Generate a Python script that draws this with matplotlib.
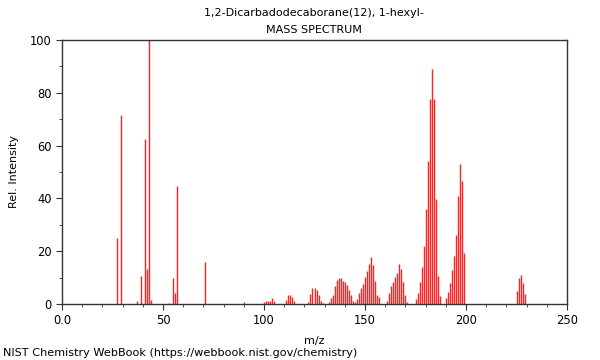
import matplotlib
matplotlib.use("Agg")
import matplotlib.pyplot as plt
from matplotlib.ticker import MultipleLocator, FuncFormatter

# m/z values and relative intensities
mz = [27, 29, 37, 39, 41, 42, 43, 44, 53, 55, 56, 57, 71, 90,
      100, 101, 102, 103, 104, 105,
      111, 112, 113, 114, 115,
      122, 123, 124, 125, 126, 127, 128, 129,
      132, 133, 134, 135, 136, 137, 138, 139, 140, 141, 142, 143, 144, 145,
      146, 147, 148, 149, 150, 151, 152, 153, 154, 155, 156, 157,
      161, 162, 163, 164, 165, 166, 167, 168, 169, 170, 171,
      175, 176, 177, 178, 179, 180, 181, 182, 183, 184, 185, 186, 187,
      190, 191, 192, 193, 194, 195, 196, 197, 198, 199,
      225, 226, 227, 228, 229]
intensity = [25, 71.5, 1.2, 10.7, 62.5, 13.2, 100, 1.5, 0.5, 10, 4.3, 44.7, 15.8, 0.6,
             0.9, 1.3, 1.3, 1.3, 2.1, 1.0,
             1.5, 3.4, 3.4, 2.8, 1.1,
             0.8, 3.8, 6.1, 6.1, 5.3, 3.4, 1.2, 0.5,
             0.9, 2.1, 3.4, 6.8, 9.1, 10, 9.7, 8.7, 8.2, 7.2, 5.3, 3.4, 1.3, 0.6,
             1.8, 4.3, 6.1, 7.6, 10.4, 12.6, 15.2, 17.7, 14.8, 8.7, 3.4, 2.5,
             1.3, 4.0, 6.8, 8.5, 10.1, 11.6, 15.2, 13.1, 8.5, 3.4, 0.9,
             1.8, 4.0, 8.5, 14.1, 22, 36, 54.2, 77.7, 88.9, 77.7, 39.8, 10.6, 3.0,
             2.1, 4.7, 8.1, 12.9, 18.2, 26.3, 40.9, 53, 46.7, 19.4,
             5.0, 9.8, 10.8, 7.8, 3.6]

title_lines = ["1,2-Dicarbadodecaborane(12), 1-hexyl-", "MASS SPECTRUM"]
footer = "NIST Chemistry WebBook (https://webbook.nist.gov/chemistry)"

fig = plt.figure(figsize=(6, 3.6), dpi=100)
ax = fig.add_axes([62 / 600, 1 - 304 / 360, 505 / 600, 264 / 360])

ax.vlines(mz, 0, intensity, colors="#ff2020", linewidth=1.0)

ax.set_xlim(0, 250)
ax.set_ylim(0, 100)
ax.xaxis.set_major_locator(MultipleLocator(50))
ax.xaxis.set_minor_locator(MultipleLocator(10))
ax.yaxis.set_major_locator(MultipleLocator(20))
ax.yaxis.set_minor_locator(MultipleLocator(10))
ax.xaxis.set_major_formatter(FuncFormatter(lambda v, p: "0.0" if v == 0 else f"{v:.0f}"))

ax.tick_params(which="both", direction="out", labelsize=8.3, color="#333333")
ax.tick_params(which="major", length=4)
ax.tick_params(which="minor", length=2)
for s in ax.spines.values():
    s.set_color("#333333")
    s.set_linewidth(1.0)

ax.set_xlabel("m/z", fontsize=8, labelpad=6)
ax.set_ylabel("Rel. Intensity", fontsize=8, labelpad=8)

fig.text(314 / 600, 1 - 13 / 360, title_lines[0], ha="center", va="center", fontsize=8)
fig.text(314 / 600, 1 - 30 / 360, title_lines[1], ha="center", va="center", fontsize=8)
fig.text(3 / 600, 1 - 353 / 360, footer, ha="left", va="center", fontsize=8.1)

fig.savefig("out.png", dpi=100)
